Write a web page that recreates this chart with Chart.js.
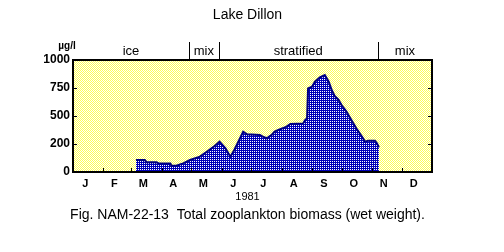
<!DOCTYPE html>
<html>
<head>
<meta charset="utf-8">
<script src="https://cdn.jsdelivr.net/npm/chart.js@4"></script>
<style>
  body { margin: 0; background: #fff; }
  canvas { display: block; }
</style>
</head>
<body>
<canvas id="chart" width="504" height="252"></canvas>
<script>
// day of year (1981) and total zooplankton biomass, ug/l
const days = [64, 73, 75, 85, 87, 99, 100, 105, 112, 119, 129, 136, 144, 149, 155, 160, 164, 169, 173, 177,
  190, 193, 197, 202, 205, 210, 216, 221, 234, 236, 238, 239, 243, 246, 251, 256, 260, 263, 266, 270,
  273, 278, 283, 288, 292, 297, 300, 307, 309, 311];
const biomass = [107, 107, 86, 86, 77, 77, 56, 56, 77, 107, 137, 181, 232, 271, 211, 137, 196, 286, 360, 336,
  331, 315, 301, 331, 360, 381, 399, 429, 434, 464, 479, 747, 762, 806, 845, 866, 806, 732, 679, 643,
  598, 539, 464, 390, 339, 271, 280, 280, 256, 220];

const monthStarts = [0, 31, 59, 90, 120, 151, 181, 212, 243, 273, 304, 334, 365];
const monthLabels = ["J", "F", "M", "A", "M", "J", "J", "A", "S", "O", "N", "D"];

const yTicks = [0, 250, 500, 750, 1000];
const yTickLabels = ["0", "200", "500", "750", "1000"];

const phaseBounds = [0, 118, 148, 310, 365];
const phaseLabels = ["ice", "mix", "stratified", "mix"];

const FONT = "'Liberation Sans', Arial, sans-serif";

function makePattern(fg, bg, cells) {
  const c = document.createElement("canvas");
  c.width = 2;
  c.height = 2;
  const g = c.getContext("2d");
  g.fillStyle = bg;
  g.fillRect(0, 0, 2, 2);
  g.fillStyle = fg;
  cells.forEach(([x, y]) => g.fillRect(x, y, 1, 1));
  return g.createPattern(c, "repeat");
}

const yellowFill = makePattern("#ffff55", "#ffffff", [[0, 0], [1, 1]]);
const blueFill = makePattern("#0000b8", "#ffffff", [[0, 0], [1, 1], [1, 0]]);

const framePlugin = {
  id: "frame",
  beforeDatasetsDraw(chart) {
    const { ctx, chartArea: a } = chart;
    ctx.save();
    ctx.fillStyle = yellowFill;
    ctx.fillRect(a.left, a.top, a.right - a.left, a.bottom - a.top);
    ctx.restore();
  },
  afterDatasetsDraw(chart) {
    const { ctx, chartArea: a, scales } = chart;
    const x = scales.x, y = scales.y;
    ctx.save();
    ctx.strokeStyle = "#000";
    ctx.lineWidth = 2;
    ctx.strokeRect(a.left, a.top, a.right - a.left, a.bottom - a.top);

    // inside ticks
    ctx.lineWidth = 1;
    ctx.beginPath();
    yTicks.slice(1, -1).forEach((v) => {
      const py = Math.round(y.getPixelForValue(v)) + 0.5;
      ctx.moveTo(a.left, py); ctx.lineTo(a.left + 4, py);
      ctx.moveTo(a.right, py); ctx.lineTo(a.right - 4, py);
    });
    monthStarts.slice(1, -1).forEach((d) => {
      const px = Math.round(x.getPixelForValue(d)) + 0.5;
      ctx.moveTo(px, a.bottom); ctx.lineTo(px, a.bottom - 4);
    });
    ctx.stroke();

    // phase bar above the plot
    ctx.beginPath();
    phaseBounds.slice(1, -1).forEach((d) => {
      const px = Math.round(x.getPixelForValue(d)) + 0.5;
      ctx.moveTo(px, a.top - 18); ctx.lineTo(px, a.top);
    });
    ctx.stroke();
    ctx.fillStyle = "#000";
    ctx.font = "13px " + FONT;
    ctx.textAlign = "center";
    ctx.textBaseline = "middle";
    phaseLabels.forEach((t, i) => {
      const mid = (phaseBounds[i] + phaseBounds[i + 1]) / 2;
      ctx.fillText(t, x.getPixelForValue(mid), a.top - 9);
    });

    // units, titles (centred a bit left of the plot centre, like the original)
    const cx = (a.left + a.right) / 2 - 5;
    ctx.font = "bold 10px " + FONT;
    ctx.fillText("\u00b5g/l", a.left - 6, a.top - 14);
    ctx.font = "14px " + FONT;
    ctx.fillText("Lake Dillon", cx, 15);
    ctx.font = "11px " + FONT;
    ctx.fillText("1981", cx, a.bottom + 25);
    ctx.font = "14px " + FONT;
    ctx.fillText("Fig. NAM-22-13  Total zooplankton biomass (wet weight).", cx, a.bottom + 43);
    ctx.restore();
  },
};

new Chart(document.getElementById("chart"), {
  type: "line",
  data: {
    datasets: [
      {
        label: "Total zooplankton biomass",
        data: days.map((d, i) => ({ x: d, y: biomass[i] })),
        borderColor: "#000080",
        borderWidth: 2,
        backgroundColor: blueFill,
        fill: "origin",
        pointRadius: 0,
        tension: 0,
      },
    ],
  },
  options: {
    responsive: false,
    animation: false,
    devicePixelRatio: 1,
    layout: { padding: { top: 60, right: 72, left: 0, bottom: 0 } },
    plugins: { legend: { display: false }, title: { display: false }, tooltip: { enabled: false } },
    scales: {
      x: {
        type: "linear",
        min: 0,
        max: 365,
        grid: { display: false, drawTicks: false },
        border: { display: false },
        afterBuildTicks: (scale) => {
          // labels sit a little left of the month centre in the original
          scale.ticks = monthStarts.slice(0, -1).map((d, i) => ({ value: (d + monthStarts[i + 1]) / 2 - 3 }));
        },
        afterFit: (scale) => { scale.height = 80; },
        ticks: {
          autoSkip: false,
          maxRotation: 0,
          padding: 5,
          color: "#000",
          font: { family: FONT, size: 11, weight: "bold" },
          callback: (v, i) => monthLabels[i],
        },
      },
      y: {
        min: 0,
        max: 1000,
        grid: { display: false, drawTicks: false },
        border: { display: false },
        afterBuildTicks: (scale) => {
          scale.ticks = yTicks.map((v) => ({ value: v }));
        },
        afterFit: (scale) => { scale.width = 73; },
        ticks: {
          padding: 3,
          color: "#000",
          font: { family: FONT, size: 12, weight: "bold" },
          callback: (v, i) => yTickLabels[i],
        },
      },
    },
  },
  plugins: [framePlugin],
});
</script>
</body>
</html>
